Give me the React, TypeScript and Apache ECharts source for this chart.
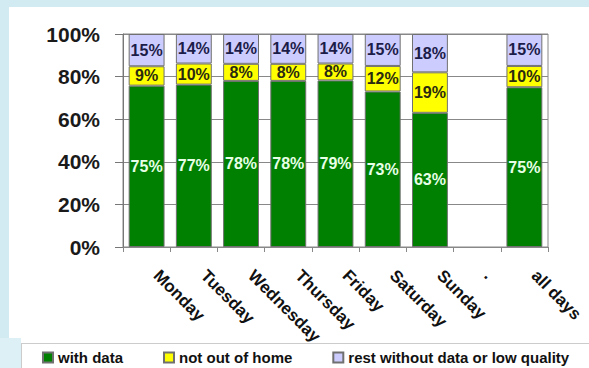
import React, { useEffect, useRef } from "react";
import * as echarts from "echarts";

const categories = ["Monday", "Tuesday", "Wednesday", "Thursday", "Friday", "Saturday", "Sunday", ".", "all days"];
const withData = [75, 77, 78, 78, 79, 73, 63, null, 75];
const notOutOfHome = [9, 10, 8, 8, 8, 12, 19, null, 10];
const restLowQuality = [15, 14, 14, 14, 14, 15, 18, null, 15];
const seriesNames = ["with data", "not out of home", "rest without data or low quality"];

const FONT = "'Liberation Sans', Arial, sans-serif";

export default function App() {
  const ref = useRef<HTMLDivElement>(null);
  useEffect(() => {
    if (!ref.current) return;
    const chart = echarts.init(ref.current, undefined, { renderer: "svg" });
    const raws = [withData, notOutOfHome, restLowQuality];
    const totals = categories.map((_, i) =>
      raws.reduce((s, arr) => s + (arr[i] == null ? 0 : (arr[i] as number)), 0)
    );
    const share = (arr: (number | null)[]) =>
      arr.map((v, i) => (v == null || totals[i] === 0 ? null : (v / totals[i]) * 100));
    const colors = ["#008000", "#ffff00", "#ccccff"];
    const labelColors = ["#e6ffe6", "#2a2a10", "#1c1c48"];
    const series = raws.map((arr, k) => ({
      name: seriesNames[k],
      type: "bar",
      stack: "total",
      barCategoryGap: "24%",
      data: share(arr),
      itemStyle: { color: colors[k], borderColor: "#707070", borderWidth: 1 },
      label: {
        show: true,
        position: "inside",
        formatter: (p: any) => (arr[p.dataIndex] == null ? "" : arr[p.dataIndex] + "%"),
        color: labelColors[k],
        fontFamily: FONT,
        fontWeight: "bold",
        fontSize: 16,
      },
    }));
    chart.setOption({
      animation: false,
      backgroundColor: "#ffffff",
      textStyle: { fontFamily: FONT },
      grid: {
        left: 123,
        right: 41,
        top: 34,
        bottom: 121,
        show: true,
        borderColor: "#888888",
        borderWidth: 1,
        backgroundColor: "transparent",
      },
      legend: {
        data: seriesNames,
        left: 42,
        top: 350,
        padding: 0,
        z: 10,
        icon: "rect",
        itemWidth: 10,
        itemHeight: 10,
        itemGap: 40,
        textStyle: { fontFamily: FONT, fontSize: 15, fontWeight: "bold", color: "#111111" },
      },
      xAxis: {
        type: "category",
        data: categories,
        axisLine: { lineStyle: { color: "#888888" } },
        axisTick: { show: true, length: 5, lineStyle: { color: "#888888" } },
        axisLabel: {
          interval: 0,
          rotate: -45,
          margin: 16,
          padding: [0, 0, 0, 14],
          fontFamily: FONT,
          fontSize: 17,
          fontWeight: "bold",
          color: "#111111",
        },
      },
      yAxis: {
        type: "value",
        min: 0,
        max: 100,
        interval: 20,
        axisLine: { show: true, lineStyle: { color: "#777777" } },
        axisTick: { show: true, length: 8, lineStyle: { color: "#777777" } },
        splitLine: { lineStyle: { color: "#888888" } },
        axisLabel: {
          formatter: "{value}%",
          margin: 23,
          fontFamily: FONT,
          fontSize: 21,
          fontWeight: "bold",
          color: "#1a1a1a",
        },
      },
      graphic: [
        { type: "rect", z: 5, shape: { x: 0, y: 0, width: 589, height: 7 }, style: { fill: "#d2eaf1" }, silent: true },
        { type: "rect", z: 5, shape: { x: 0, y: 0, width: 9, height: 368 }, style: { fill: "#d2eaf1" }, silent: true },
        { type: "rect", z: 5, shape: { x: 0, y: 338, width: 21, height: 30 }, style: { fill: "#dcf0f5" }, silent: true },
        {
          type: "rect",
          z: 5,
          shape: { x: 21.5, y: 343.5, width: 600, height: 40 },
          style: { fill: "#ffffff", stroke: "#999999", lineWidth: 1, lineDash: [1, 1] },
          silent: true,
        },
      ],
      series,
    });
    return () => chart.dispose();
  }, []);
  return (
    <div
      ref={ref}
      style={{ position: "fixed", left: 0, top: 0, width: 589, height: 368 }}
    />
  );
}
